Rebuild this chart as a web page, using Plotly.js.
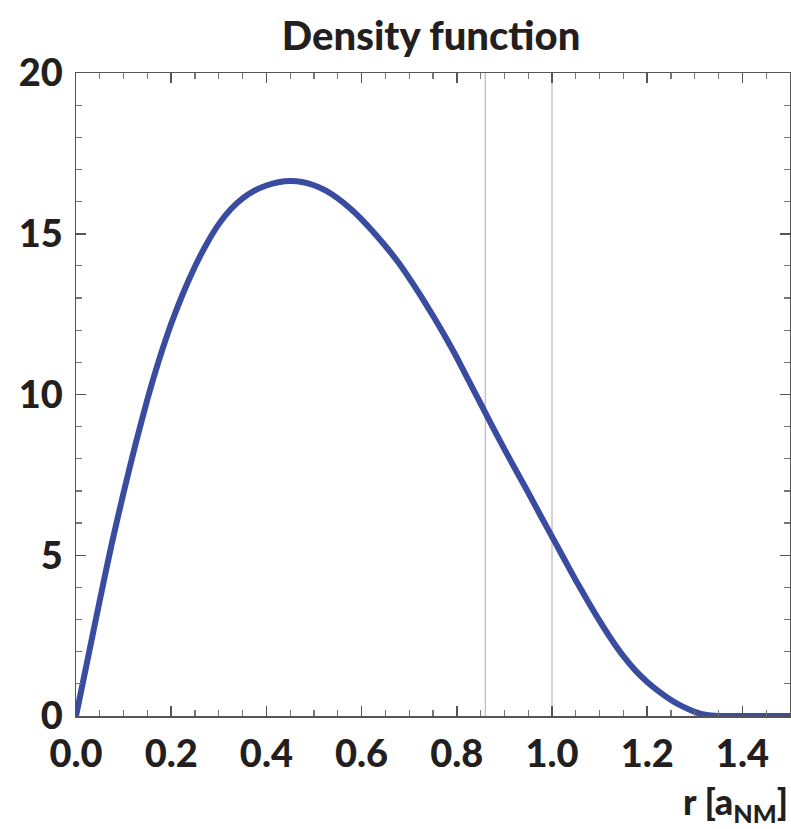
<!DOCTYPE html>
<html>
<head>
<meta charset="utf-8">
<script src="https://cdn.plot.ly/plotly-3.0.1.min.js"></script>
<style>html,body{margin:0;padding:0;background:#fff;}#chart{width:791px;height:829px;}</style>
</head>
<body>
<div id="chart"></div>
<script>
// Density curve (r step 0.025)
const rValues = [0.000, 0.025, 0.050, 0.075, 0.100, 0.125, 0.150, 0.175, 0.200, 0.225, 0.250, 0.275, 0.300, 0.325, 0.350, 0.375, 0.400, 0.425, 0.450, 0.475, 0.500, 0.525, 0.550, 0.575, 0.600, 0.625, 0.650, 0.675, 0.700, 0.725, 0.750, 0.775, 0.800, 0.825, 0.850, 0.875, 0.900, 0.925, 0.950, 0.975, 1.000, 1.025, 1.050, 1.075, 1.100, 1.125, 1.150, 1.175, 1.200, 1.225, 1.250, 1.275, 1.300, 1.325, 1.350, 1.400, 1.450, 1.500];
const densityValues = [0.00, 1.80, 3.60, 5.35, 6.95, 8.45, 9.85, 11.10, 12.20, 13.15, 13.98, 14.70, 15.30, 15.76, 16.10, 16.34, 16.50, 16.60, 16.64, 16.61, 16.51, 16.34, 16.10, 15.80, 15.45, 15.05, 14.62, 14.15, 13.62, 13.05, 12.45, 11.82, 11.15, 10.43, 9.72, 9.00, 8.30, 7.62, 6.95, 6.26, 5.58, 4.90, 4.22, 3.58, 2.96, 2.38, 1.86, 1.42, 1.06, 0.76, 0.50, 0.29, 0.13, 0.03, 0.00, 0.00, 0.00, 0.00];
// vertical reference lines
const vLines = [0.86, 1.0];
const yRange = [0, 20];
const xRange = [0, 1.5];
const xTickVals = [0, 0.2, 0.4, 0.6, 0.8, 1.0, 1.2, 1.4];
const xTickText = ["0.0", "0.2", "0.4", "0.6", "0.8", "1.0", "1.2", "1.4"];
const yTickVals = [0, 5, 10, 15, 20];
const yTickText = ["0", "5", "10", "15", "20"];

const FONT = "Lato, 'Open Sans', sans-serif";
const TXT = "#231f20";

const traces = vLines.map(v => ({
  x: [v, v], y: yRange, mode: "lines", type: "scatter",
  line: {color: "#c4c4c4", width: 1.5}, hoverinfo: "skip", showlegend: false
}));
traces.push({
  x: rValues, y: densityValues, mode: "lines", type: "scatter",
  line: {color: "#3a4ca0", width: 6, shape: "spline", smoothing: 0.6},
  showlegend: false
});

const layout = {
  width: 791, height: 829,
  margin: {l: 76, r: 1, t: 73, b: 113},
  paper_bgcolor: "#fff", plot_bgcolor: "#fff",
  title: {text: "Density function", font: {family: FONT, size: 40, color: TXT, weight: 900}, x: 0.545, xanchor: "center", y: 0.974, yanchor: "top"},
  xaxis: {
    range: xRange, tickvals: xTickVals, ticktext: xTickText,
    ticks: "inside", ticklen: 10, tickwidth: 1.5, tickcolor: "#555",
    minor: {dtick: 0.05, tick0: 0, ticks: "inside", ticklen: 6, tickwidth: 1.2, tickcolor: "#777"},
    showline: true, linecolor: "#555", linewidth: 1.5, mirror: "ticks",
    showgrid: false, zeroline: false,
    tickfont: {family: FONT, size: 38, color: TXT, weight: 900},
    ticklabelstandoff: 4
  },
  yaxis: {
    range: yRange, tickvals: yTickVals, ticktext: yTickText,
    ticks: "inside", ticklen: 10, tickwidth: 1.5, tickcolor: "#555",
    minor: {dtick: 1, tick0: 0, ticks: "inside", ticklen: 6, tickwidth: 1.2, tickcolor: "#777"},
    showline: true, linecolor: "#555", linewidth: 1.5, mirror: "ticks",
    showgrid: false, zeroline: false,
    tickfont: {family: FONT, size: 38, color: TXT, weight: 900},
    ticklabelstandoff: 4
  },
  annotations: [{
    text: "r [a<sub>NM</sub>]", xref: "paper", yref: "paper", x: 1, y: -0.178,
    xanchor: "right", yanchor: "bottom", showarrow: false,
    font: {family: FONT, size: 36, color: TXT, weight: 900}
  }]
};

Plotly.newPlot("chart", traces, layout, {displayModeBar: false, staticPlot: true});
</script>
</body>
</html>
